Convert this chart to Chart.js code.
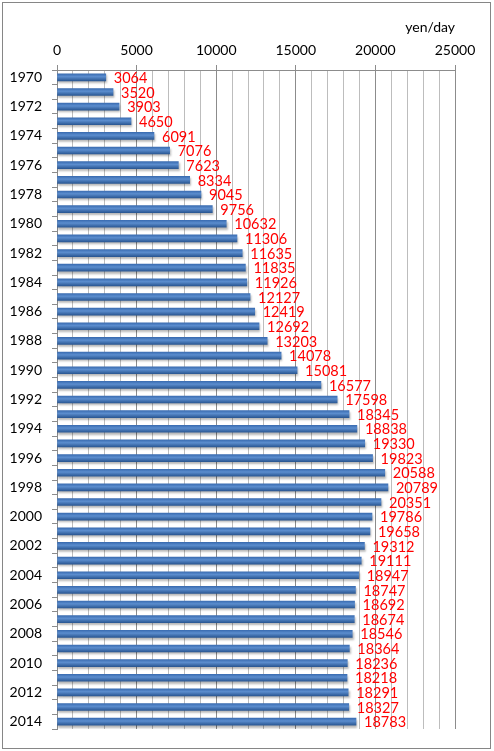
<!DOCTYPE html>
<html>
<head>
<meta charset="utf-8">
<script src="https://cdn.jsdelivr.net/npm/chart.js@4/dist/chart.umd.min.js"></script>
<style>
  html, body { margin: 0; padding: 0; background: #fff; }
  #wrap { position: relative; width: 494px; height: 751px; }
  #frame { position: absolute; left: 2px; top: 2px; width: 487px; height: 745px; border: 1px solid #868686; pointer-events: none; }
</style>
</head>
<body>
<div id="wrap">
  <canvas id="graph" width="494" height="751"></canvas>
  <div id="frame"></div>
</div>
<script>
const years = [];
for (let y = 1970; y <= 2014; y++) years.push(String(y));

const wages = [3064, 3520, 3903, 4650, 6091, 7076, 7623, 8334, 9045, 9756,
  10632, 11306, 11635, 11835, 11926, 12127, 12419, 12692, 13203, 14078,
  15081, 16577, 17598, 18345, 18838, 19330, 19823, 20588, 20789, 20351,
  19786, 19658, 19312, 19111, 18947, 18747, 18692, 18674, 18546, 18364,
  18236, 18218, 18291, 18327, 18783];

const xMax = 25000;
const unitLabel = 'yen/day';

const FONT = 'Lato';
const BAR_H = 7;

// etiquetas vermelhas no fim de cada barra
const valueLabels = {
  id: 'valueLabels',
  afterDatasetsDraw(chart) {
    const ctx = chart.ctx;
    const meta = chart.getDatasetMeta(0);
    ctx.save();
    ctx.fillStyle = '#ff0000';
    ctx.font = '14.5px ' + FONT;
    ctx.textAlign = 'left';
    ctx.textBaseline = 'middle';
    meta.data.forEach((bar, i) => {
      ctx.fillText(String(wages[i]), bar.x + 8, bar.y + 1);
    });
    ctx.restore();
  }
};

// sombra cinza por baixo das barras
const barShadow = {
  id: 'barShadow',
  beforeDatasetsDraw(chart) {
    const ctx = chart.ctx;
    ctx.save();
    ctx.shadowColor = 'rgba(0,0,0,0.28)';
    ctx.shadowBlur = 2;
    ctx.shadowOffsetY = 2;
    ctx.shadowOffsetX = 1;
  },
  afterDatasetsDraw(chart) {
    chart.ctx.restore();
  }
};

const barColor = (c) => {
  const chart = c.chart;
  const ys = chart.scales.y;
  if (!chart.chartArea || !ys || c.dataIndex === undefined) return '#4a7ebb';
  const mid = ys.getPixelForValue(c.dataIndex);
  const g = chart.ctx.createLinearGradient(0, mid - BAR_H / 2, 0, mid + BAR_H / 2);
  g.addColorStop(0, '#3b6db2');
  g.addColorStop(0.4, '#5b8dce');
  g.addColorStop(1, '#2b5894');
  return g;
};

new Chart(document.getElementById('graph').getContext('2d'), {
  type: 'bar',
  data: {
    labels: years,
    datasets: [{
      data: wages,
      backgroundColor: barColor,
      borderWidth: 0,
      barThickness: BAR_H
    }]
  },
  plugins: [barShadow, valueLabels],
  options: {
    indexAxis: 'y',
    responsive: false,
    animation: false,
    layout: { padding: { top: 0, right: 39, bottom: 22, left: 0 } },
    plugins: { legend: { display: false }, tooltip: { enabled: false } },
    scales: {
      x: {
        position: 'top',
        min: 0,
        max: xMax,
        afterFit: (s) => { s.height = 70; },
        ticks: {
          stepSize: 1000,
          autoSkip: false,
          maxRotation: 0,
          padding: 6,
          color: '#000',
          font: { family: FONT, size: 14 },
          callback: (v) => (v % 5000 === 0 ? String(v) : '')
        },
        grid: {
          color: (c) => (c.tick && c.tick.value % 5000 === 0 ? '#8c8c8c' : '#bdbdbd'),
          tickColor: (c) => (c.tick && c.tick.value % 5000 === 0 ? '#8c8c8c' : 'rgba(0,0,0,0)'),
          tickLength: 5
        },
        border: { color: '#8c8c8c' },
        title: {
          display: true,
          text: unitLabel,
          align: 'end',
          color: '#000',
          font: { family: FONT, size: 14 },
          padding: { top: 19, bottom: 0 }
        }
      },
      y: {
        afterFit: (s) => { s.width = 57; },
        ticks: {
          autoSkip: false,
          padding: 10,
          color: '#000',
          font: { family: FONT, size: 14 },
          callback: function (v, i) { return i % 2 === 0 ? years[i] : ''; }
        },
        grid: {
          offset: true,
          drawOnChartArea: false,
          tickLength: 5,
          tickColor: '#8c8c8c'
        },
        border: { color: '#8c8c8c' }
      }
    }
  }
});
</script>
</body>
</html>
